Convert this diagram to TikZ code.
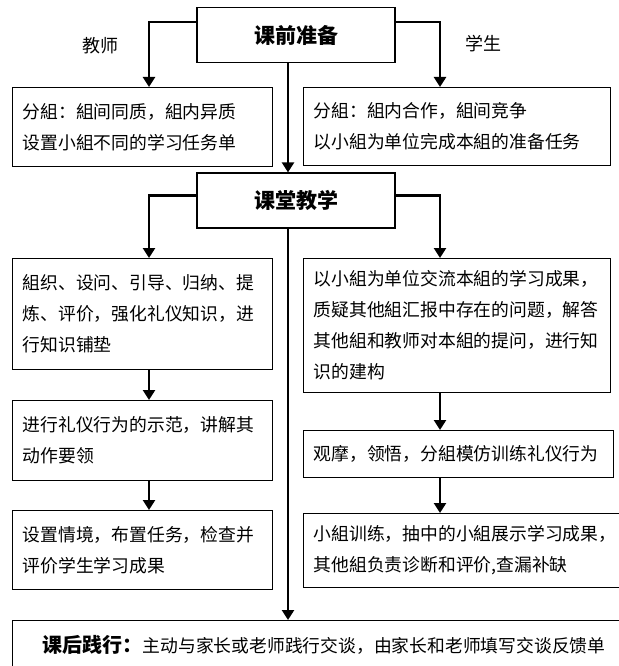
\documentclass[tikz,border=0pt]{standalone}
\usepackage{fontspec}
\setmainfont{Noto Sans CJK SC}
\usetikzlibrary{arrows.meta}

\tikzstyle{stage} = [draw, line width=1.2pt, minimum width=198pt, minimum height=55pt, inner sep=0pt, font=\fontsize{21}{24}\selectfont\bfseries]
\tikzstyle{task} = [draw, line width=1.2pt, anchor=north west, align=left, inner xsep=10pt, inner ysep=0pt, font=\fontsize{17.8}{31}\selectfont]
\tikzstyle{role} = [font=\fontsize{18}{20}\selectfont]
\tikzstyle{flow} = [draw, line width=2.4pt, -{Triangle[width=12pt,length=10pt]}]
\def\teacherBoxes{{(12,87)/260/79/t1/{分組：組间同质，組内异质\\设置小組不同的学习任务单}}, {(12,258)/260/111/t2/{組织、设问、引导、归纳、提\\炼、评价，强化礼仪知识，进\\行知识铺垫}}, {(12,400)/260/80/t3/{进行礼仪行为的示范，讲解其\\动作要领}}, {(12,510)/260/79/t4/{设置情境，布置任务，检查并\\评价学生学习成果}}}
\def\studentBoxes{{(303,87)/307/78/s1/{分組：組内合作，組间竞争\\以小組为单位完成本組的准备任务}}, {(303,258)/307/134/s2/{以小組为单位交流本組的学习成果，\\质疑其他組汇报中存在的问题，解答\\其他組和教师对本組的提问，进行知\\识的建构}}, {(303,430)/310/47/s3/{观摩，领悟，分組模仿训练礼仪行为}}, {(303,513)/330/74/s4/{小組训练，抽中的小組展示学习成果，\\其他組负责诊断和评价,查漏补缺}}}
\def\branchLinks{pre/t1/lcol/west/15pt, pre/s1/rcol/east/15pt, cls/t2/lcol/west/23pt, cls/s2/rcol/east/23pt}
\def\downLinks{pre/cls/mcol, t2/t3/lcol, t3/t4/lcol, s2/s3/rcol, s3/s4/rcol, cls/post/mcol}

\begin{document}
\begin{tikzpicture}[x=1pt,y=-1pt]

  \useasboundingbox (0,0) rectangle (618,666);

  \coordinate (lcol) at (149,0);
  \coordinate (mcol) at (288,0);
  \coordinate (rcol) at (440,0);

  \node[stage] (pre) at (296,35) {课前准备};
  \node[stage] (cls) at (296,200.5) {课堂教学};

  \node[role] (teacher) at (100,46) {教师};
  \node[role] (student) at (483,44) {学生};

  \foreach \pos/\w/\h/\name/\txt in \teacherBoxes {
    \pgfmathsetmacro\tw{\w-20}
    \node[task, minimum width=\w pt, minimum height=\h pt, text width=\tw pt] (\name) at \pos {\txt};
    }

  \foreach \pos/\w/\h/\name/\txt in \studentBoxes {
    \pgfmathsetmacro\tw{\w-20}
    \node[task, minimum width=\w pt, minimum height=\h pt, text width=\tw pt] (\name) at \pos {\txt};
    }

  \node[task, minimum width=640pt, minimum height=48pt, text width=580pt, inner xsep=30pt] (post) at (12,620) {{\fontsize{20}{24}\selectfont\bfseries 课后践行：}主动与家长或老师践行交谈，由家长和老师填写交谈反馈单};

  \foreach \src/\dst/\col/\side/\drop in \branchLinks {
    \path[flow] ([yshift=-\drop]\src.north \side) -| (\dst.north -| \col);
    }

  \foreach \src/\dst/\col in \downLinks {
    \path[flow] (\src.south -| \col) -- (\dst.north -| \col);
    }

\end{tikzpicture}
\end{document}
